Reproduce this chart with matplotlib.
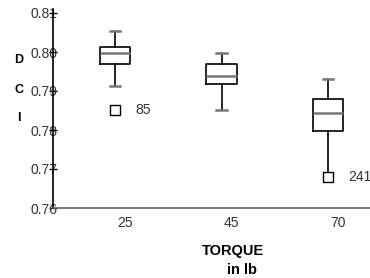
import matplotlib
matplotlib.use("Agg")
import matplotlib.pyplot as plt
from matplotlib.transforms import ScaledTranslation

plt.rcParams['font.family'] = ['Liberation Sans', 'DejaVu Sans']

torque = ["25", "45", "70"]
whis_hi = [0.8054, 0.7997, 0.7931]
q3 = [0.8013, 0.7969, 0.7880]
median = [0.7997, 0.7938, 0.7844]
q1 = [0.7969, 0.7918, 0.7797]
whis_lo = [0.7913, 0.7851, 0.7694]
outliers = [[0.7851], [], [0.7680]]
outlier_ids = [["85"], [], ["241"]]

stats = []
for i in range(len(torque)):
    stats.append({"med": median[i], "q1": q1[i], "q3": q3[i],
                  "whislo": whis_lo[i], "whishi": whis_hi[i],
                  "fliers": outliers[i], "label": torque[i]})

fig = plt.figure(figsize=(3.7, 2.78), dpi=100)
ax = fig.add_axes([53/370, 1 - 208/278, 317/370, 198/278])

pos = [1, 2, 3]
bp = ax.bxp(stats, positions=pos, widths=0.29, capwidths=0.1, patch_artist=False,
            boxprops=dict(color='black', linewidth=1.2),
            whiskerprops=dict(color='black', linewidth=1.2),
            capprops=dict(color='#777777', linewidth=1.8),
            medianprops=dict(color='#777777', linewidth=1.8),
            flierprops=dict(marker='s', markersize=7, markerfacecolor='white',
                            markeredgecolor='black', markeredgewidth=1.0))
# lowest whisker of the last box ends on the outlier, no cap
bp['caps'][4].set_visible(False)

for i in range(len(torque)):
    for v, lab in zip(outliers[i], outlier_ids[i]):
        ax.text(pos[i] + 0.19, v, lab, fontsize=10, color='#333333', va='center', ha='left')

ax.set_xlim(1 - 62/106.5, 3 + 42/106.5)
ax.set_ylim(0.76, 0.76 + 198/3900)
ax.set_yticks([0.76, 0.77, 0.78, 0.79, 0.80, 0.81])
ax.set_yticklabels(["0.76", "0.77", "0.78", "0.79", "0.80", "0.81"])
ax.set_xticks(pos)
ax.set_xticklabels(torque)

for s in ['top', 'right']:
    ax.spines[s].set_visible(False)
ax.spines['left'].set_color('black')
ax.spines['left'].set_linewidth(1.2)
ax.spines['bottom'].set_color('#666666')
ax.spines['bottom'].set_linewidth(1.2)
ax.tick_params(axis='y', direction='inout', length=6, width=1, pad=-6,
               labelsize=10, labelcolor='#333333')
ax.tick_params(axis='x', length=0, pad=6, labelsize=10, labelcolor='#333333')

shift = ScaledTranslation(10/100, 0, fig.dpi_scale_trans)
for lab in ax.get_xticklabels():
    lab.set_transform(lab.get_transform() + shift)

for letter, y in zip(["D", "C", "I"], [60, 90, 118]):
    fig.text(19/370, 1 - y/278, letter, fontsize=9, fontweight='bold', ha='center', va='center')

fig.text(233/370, 1 - 251/278, "TORQUE", fontsize=10.5, fontweight='bold', ha='center', va='center')
fig.text(242/370, 1 - 270/278, "in lb", fontsize=10.5, fontweight='bold', ha='center', va='center')

fig.savefig("out.png", dpi=100)
